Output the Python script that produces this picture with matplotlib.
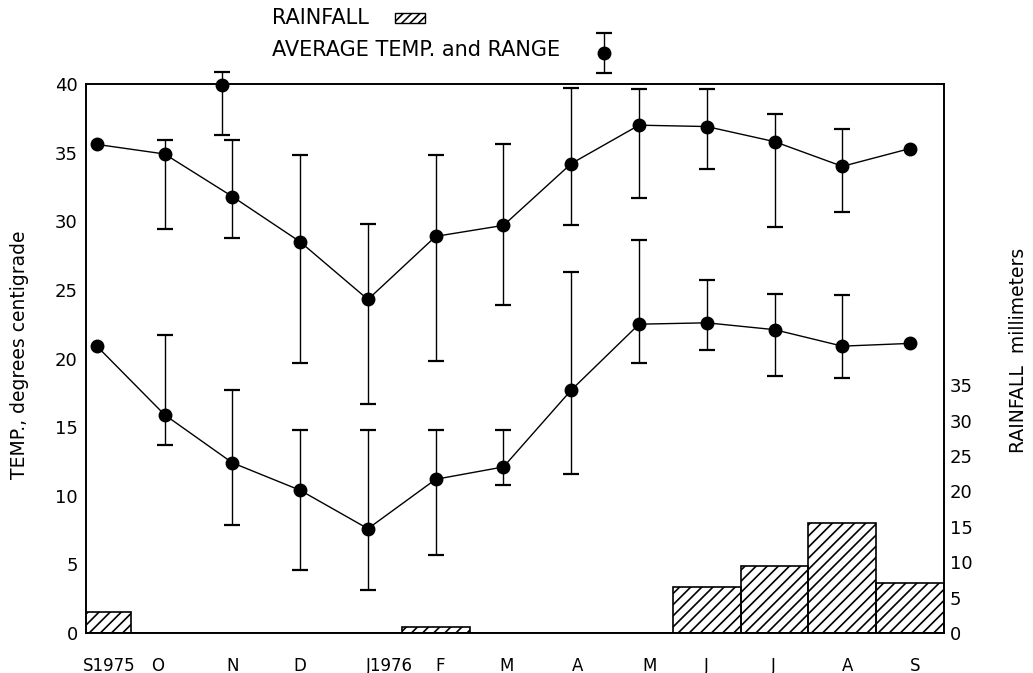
import matplotlib
matplotlib.use("Agg")
import matplotlib.pyplot as plt
import numpy as np
from matplotlib.patches import Rectangle

plt.rcParams['font.family'] = ['DejaVu Sans']
plt.rcParams['hatch.linewidth'] = 1.2

# Sept 1975 .. Sept 1976
months = ['S1975', 'O', 'N', 'D', 'J1976', 'F', 'M', 'A', 'M', 'J', 'J', 'A', 'S']

# upper curve: average temp with range
hi_mean = [35.6, 34.9, 31.8, 28.5, 24.3, 28.9, 29.7, 34.2, 37.0, 36.9, 35.8, 34.0, 35.3]
hi_low = [np.nan, 29.4, 28.8, 19.7, 16.7, 19.8, 23.9, 29.7, 31.7, 33.8, 29.6, 30.7, np.nan]
hi_high = [np.nan, 35.9, 35.9, 34.8, 29.8, 34.8, 35.6, 39.7, 39.6, 39.6, 37.8, 36.7, np.nan]

# lower curve
lo_mean = [20.9, 15.9, 12.4, 10.4, 7.6, 11.2, 12.1, 17.7, 22.5, 22.6, 22.1, 20.9, 21.1]
lo_low = [np.nan, 13.7, 7.9, 4.6, 3.1, 5.7, 10.8, 11.6, 19.7, 20.6, 18.7, 18.6, np.nan]
lo_high = [np.nan, 21.7, 17.7, 14.8, 14.8, 14.8, 14.8, 26.3, 28.6, 25.7, 24.7, 24.6, np.nan]

# single extreme reading in November
peak_x = [1.85]
peak_mean = [39.9]
peak_low = [36.3]
peak_high = [40.9]

# rainfall, mm
rain = [3.0, 0, 0, 0, 0, 0.8, 0, 0, 0, 6.5, 9.5, 15.5, 7.1]

xtick_pos = [0.18, 0.9, 2.0, 3.0, 4.32, 5.06, 6.04, 7.1, 8.16, 9.0, 9.98, 11.08, 12.07]
xtick_lab = ['S1975', 'O', 'N', 'D', 'J1976', 'F', 'M', 'A', 'M', 'J', 'J', 'A', 'S']

W, H = 1033, 673
fig = plt.figure(figsize=(W / 100, H / 100), dpi=100)
ax = fig.add_axes([86 / W, 1 - 633 / H, (944 - 86) / W, (633 - 84) / H])
ax2 = ax.twinx()

idx = np.arange(len(months))


def draw_series(mean, low, high):
    mean = np.array(mean)
    low = np.array(low)
    high = np.array(high)
    ax.plot(idx, mean, color='k', lw=1.0, marker='o', ms=9, zorder=3)
    ok = ~np.isnan(low)
    ax.errorbar(idx[ok], mean[ok],
                yerr=[mean[ok] - low[ok], high[ok] - mean[ok]],
                fmt='none', ecolor='k', elinewidth=1.0, capsize=6,
                capthick=1.6, zorder=3)


draw_series(hi_mean, hi_low, hi_high)
draw_series(lo_mean, lo_low, lo_high)

pm = np.array(peak_mean)
ax.errorbar(peak_x, pm, yerr=[pm - np.array(peak_low), np.array(peak_high) - pm],
            fmt='o', color='k', ms=9, elinewidth=1.0, capsize=6,
            capthick=1.6, clip_on=False, zorder=4)

ax2.bar(idx, rain, width=1.0, fill=False, hatch='///', edgecolor='k',
        lw=1.2, zorder=1)

ax.set_xlim(-0.16, 12.5)
ax.set_ylim(0, 40)
ax2.set_ylim(0, 40 * 13.75 / 7.09)

ax.set_yticks(np.arange(0, 41, 5))
ax.tick_params(axis='y', length=0, pad=6, labelsize=13)
ax.set_xticks(xtick_pos)
ax.set_xticklabels(xtick_lab)
ax.tick_params(axis='x', length=0, pad=17, labelsize=12)

ax2.set_yticks(np.arange(0, 36, 5))
ax2.tick_params(axis='y', length=0, pad=4, labelsize=13)

for a in (ax, ax2):
    for s in a.spines.values():
        s.set_linewidth(1.2)

fig.text(20 / W, 1 - 355 / H, 'TEMP., degrees centigrade', rotation=90,
         ha='center', va='center', fontsize=13.5)
fig.text(1018 / W, 1 - 350 / H, 'RAINFALL  millimeters', rotation=90,
         ha='center', va='center', fontsize=13.5)

# legend at the top
fig.text(272 / W, 1 - 18 / H, 'RAINFALL', ha='left', va='center', fontsize=15)
fig.text(272 / W, 1 - 50 / H, 'AVERAGE TEMP. and RANGE', ha='left',
         va='center', fontsize=15)
fig.add_artist(Rectangle((395 / W, 1 - 23 / H), 30 / W, 10 / H,
                         transform=fig.transFigure, fill=False,
                         hatch='////', edgecolor='k', lw=1.0))
lax = fig.add_axes([590 / W, 1 - 76 / H, 28 / W, 46 / H])
lax.errorbar([0], [0], yerr=[[1], [1]], fmt='o', color='k', ms=9,
             elinewidth=1.0, capsize=6, capthick=1.6)
lax.set_xlim(-1, 1)
lax.set_ylim(-1.15, 1.15)
lax.axis('off')

fig.savefig('out.png', dpi=100)
